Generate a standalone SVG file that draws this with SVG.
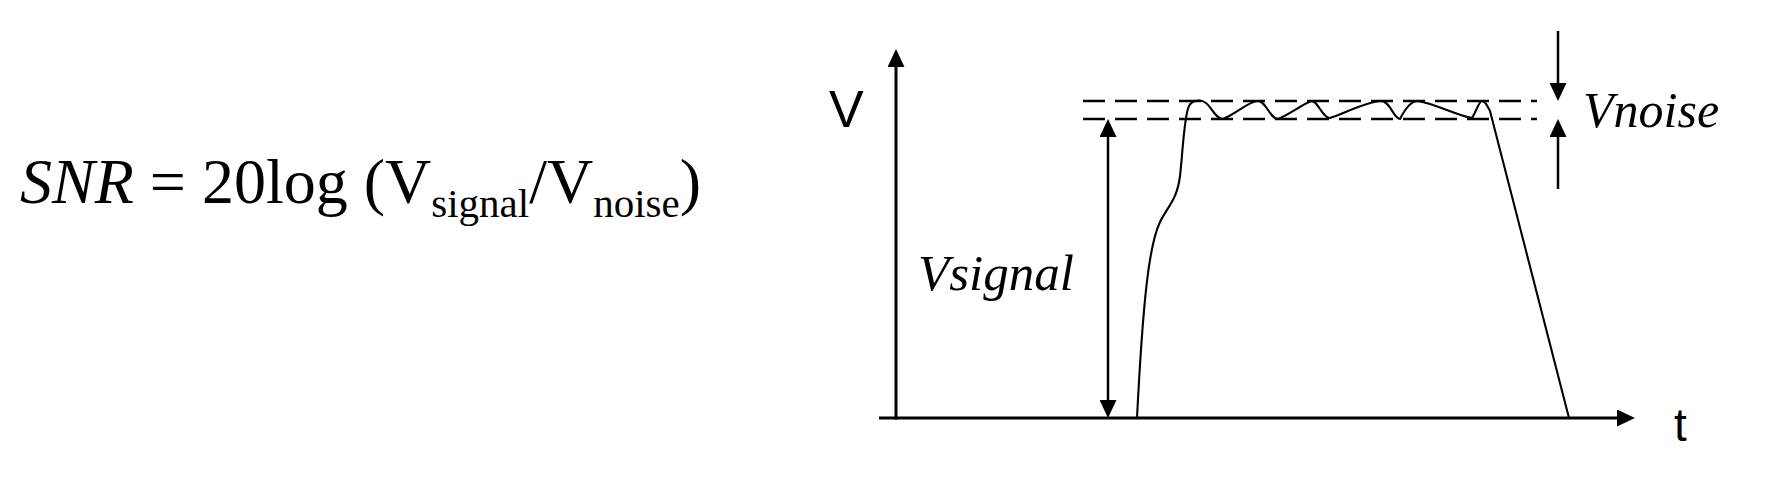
<svg xmlns="http://www.w3.org/2000/svg" width="1780" height="478" viewBox="0 0 1780 478">
<style>
.ax{stroke:#000;stroke-width:3;fill:none}
.ar{stroke:#000;stroke-width:2.5;fill:none}
.dash{stroke:#000;stroke-width:2.4;stroke-dasharray:22 10;fill:none}
.sig{stroke:#000;stroke-width:2.1;fill:none;stroke-linejoin:round}
.serif{font-family:"Liberation Serif","Times New Roman",serif;fill:#000}
.sans{font-family:"Liberation Sans",Arial,sans-serif;fill:#000}
</style>
<defs>
<marker id="arr" viewBox="0 0 18 17" refX="2" refY="8.5" markerWidth="18" markerHeight="17" markerUnits="userSpaceOnUse" orient="auto-start-reverse">
<path d="M0,0 L18,8.5 L0,17 z" fill="#000"/>
</marker>
</defs>
<rect width="1780" height="478" fill="#fff"/>
<g id="formula">
<text class="serif" x="20" y="203" font-size="64"><tspan font-style="italic">SNR</tspan> = 20log (V<tspan font-size="41" dy="14">signal</tspan><tspan dy="-14">/V</tspan><tspan font-size="41" dy="14">noise</tspan><tspan dy="-14">)</tspan></text>
</g>
<g id="connectors">
<line class="ax" x1="896" y1="419.5" x2="896" y2="65" marker-end="url(#arr)"/>
<line class="ax" x1="879" y1="418" x2="1619" y2="418" marker-end="url(#arr)"/>
<line class="ar" x1="1108" y1="135" x2="1108" y2="402" marker-start="url(#arr)" marker-end="url(#arr)"/>
<line class="ar" x1="1558" y1="31" x2="1558" y2="85" marker-end="url(#arr)"/>
<line class="ar" x1="1558" y1="189" x2="1558" y2="135" marker-end="url(#arr)"/>
</g>
<g id="levels">
<line class="dash" x1="1083" y1="101" x2="1537" y2="101"/>
<line class="dash" x1="1083" y1="119" x2="1537" y2="119"/>
</g>
<g id="signal">
<path class="sig" d="M1137,418 C1143,300 1149,245 1160,222 C1168,206 1177,200 1180,176 C1183,150 1184,116 1189,106 C1192,100 1201,99 1206,103 C1212,108 1216,119 1223,119 C1236,114 1249,101 1258,101 C1266,101 1270,119 1278,119 C1288,115 1300,106 1311,101 C1318,100 1322,118 1330,118 C1345,113 1368,101 1381,101 C1390,101 1394,119 1400,119 C1404,111 1410,101 1418,101 C1436,104 1458,116 1472,118 C1476,112 1479,101 1482,101 C1485,101 1487,105 1490,111 L1569,418"/>
</g>
<g id="labels">
<text class="sans" x="829" y="127" font-size="52">V</text>
<text class="sans" x="1674" y="441" font-size="46">t</text>
<text class="serif" x="918" y="290" font-size="51" font-style="italic">Vsignal</text>
<text class="serif" x="1583" y="127" font-size="50" font-style="italic">Vnoise</text>
</g>
</svg>
